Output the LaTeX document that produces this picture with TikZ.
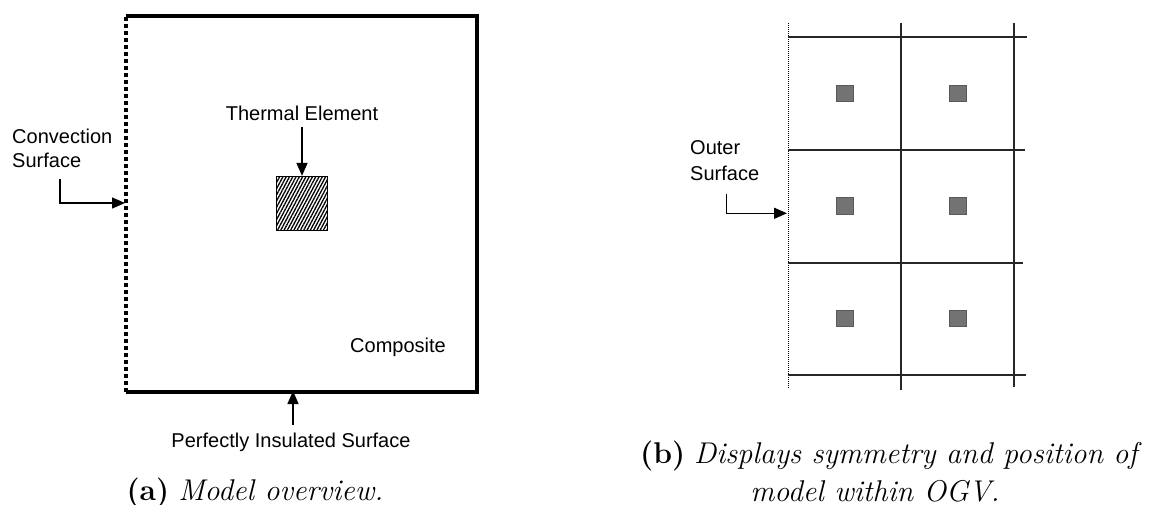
\documentclass[tikz,border=0pt]{standalone}
\usepackage{fontspec}
\newfontfamily\arialf{Liberation Sans}
\usetikzlibrary{arrows.meta,patterns.meta}
\begin{document}
\begin{tikzpicture}[x=1pt,y=-1pt,
  lbl/.style={font=\arialf\fontsize{20}{24}\selectfont, inner sep=0pt},
  captxt/.style={font=\fontsize{30}{38}\selectfont, inner sep=0pt},
  arr/.style={line width=1.5pt, -{Triangle[length=13pt,width=11pt]}},
  border/.style={line width=3.3pt},
  gridline/.style={line width=1.7pt, draw=black!85},
  cell/.style={draw=black!65, fill=black!55, minimum size=16.5pt, inner sep=0pt, line width=1pt}
]
\useasboundingbox (0,0) rectangle (1151,505);

% ---------- (a) ----------
\coordinate (tl) at (126,16);
\coordinate (tr) at (477,16);
\coordinate (br) at (477,392);
\coordinate (bl) at (126,392);
\draw[border, line join=miter] (tl) -- (tr) -- (br) -- (bl);
\draw[border, dash pattern=on 4pt off 3pt] (bl) -- (tl);

\node[draw, line width=1.5pt, minimum width=51pt, minimum height=54pt,
      pattern={Lines[angle=62,distance=2.9pt,line width=1.3pt]}] (te) at (302,203.5) {};
\node[lbl, anchor=base] (tel) at (302,121) {Thermal Element};
\coordinate (teA) at (302,127);
\draw[arr] (teA) -- (te.north);

\node[lbl, align=left, anchor=west] (conv) at (12,148) {Convection\\Surface};
\coordinate (cA) at (60,179);
\coordinate (cE) at (125,203);
\draw[arr] (cA) |- (cE);

\node[lbl, anchor=base] (comp) at (398,352) {Composite};

\node[lbl, anchor=base] (ins) at (291,447) {Perfectly Insulated Surface};
\coordinate (iA) at (293,425);
\coordinate (iE) at (293,391);
\draw[arr] (iA) -- (iE);

\node[captxt, anchor=base] (capa) at (255,500) {\textbf{(a)} \textit{Model overview.}};

% ---------- (b) ----------
\coordinate (d1) at (788,23);
\coordinate (d2) at (788,389);
\draw[line width=0.9pt, dash pattern=on 1pt off 1pt] (d1) -- (d2);
\foreach \yy/\xe in {37.3/1027,150/1025,262.7/1023,375.3/1026}{
  \draw[gridline] (788,\yy) -- (\xe,\yy);
}
\draw[gridline] (901,23) -- (901,390);
\draw[gridline] (1014,23) -- (1014,387);

\foreach \cx [count=\i] in {845,958}{
  \foreach \cy [count=\j] in {93.3,206,318.7}{
    \node[cell] (c\i\j) at (\cx,\cy) {};
  }
}

\node[lbl, align=left, anchor=west, font=\arialf\fontsize{20}{26}\selectfont] (outer) at (690,161) {Outer\\Surface};
\coordinate (oA) at (726.7,194);
\coordinate (oE) at (787,213.3);
\draw[arr] (oA) |- (oE);

\node[captxt, anchor=base] (capb1) at (891,463) {\textbf{(b)} \textit{Displays symmetry and position of}};
\node[captxt, anchor=base] (capb2) at (875,501) {\textit{model within OGV.}};
\end{tikzpicture}
\end{document}
